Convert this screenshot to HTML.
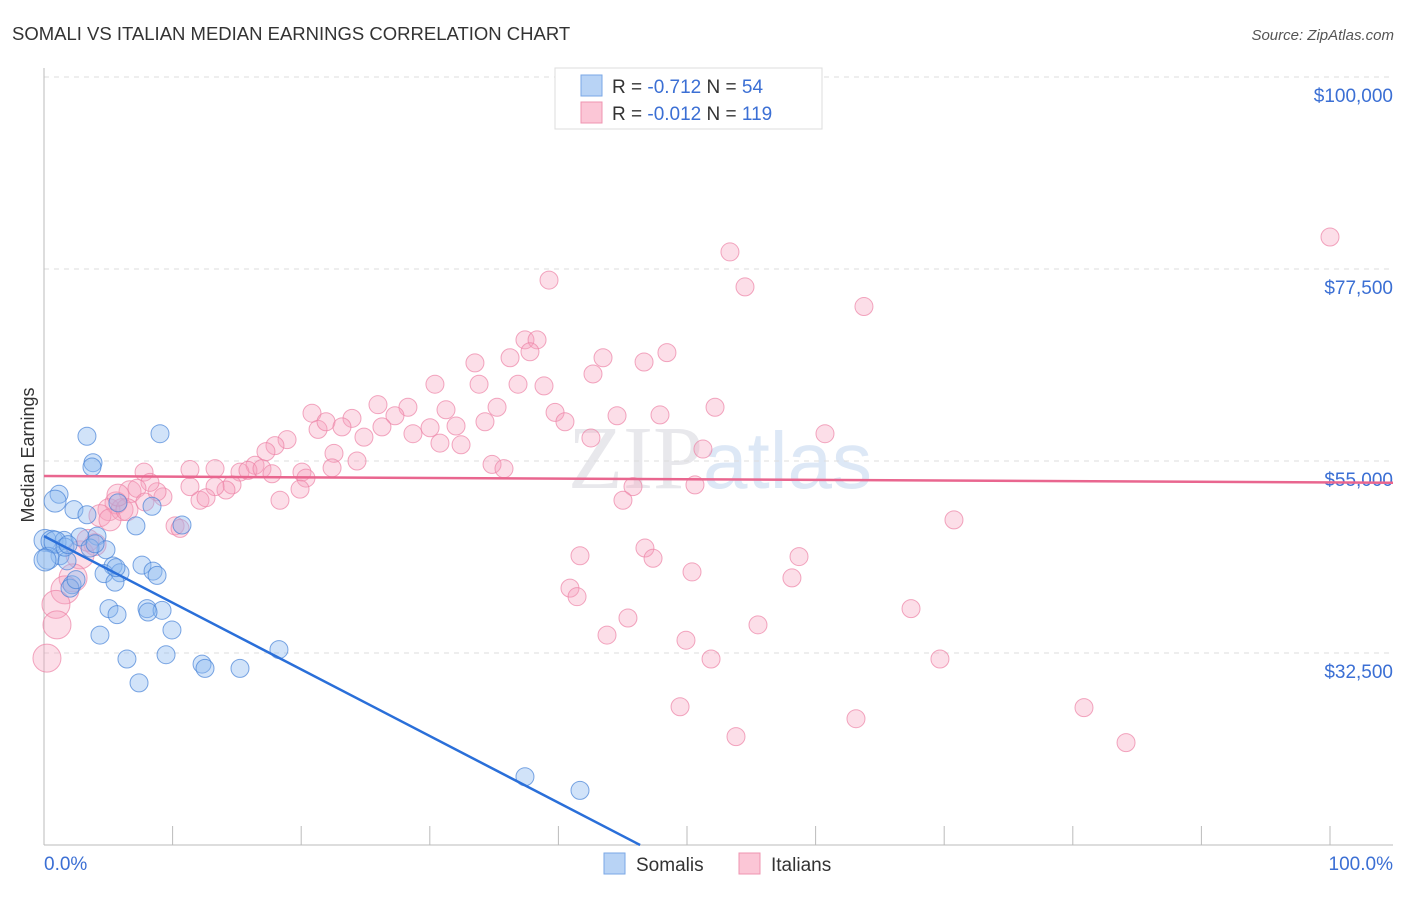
<!DOCTYPE html>
<html><head><meta charset="utf-8"><style>
body{margin:0;background:#fff;font-family:"Liberation Sans",sans-serif;}
</style></head><body>
<svg width="1406" height="892" xmlns="http://www.w3.org/2000/svg" id="chart" font-family="Liberation Sans, sans-serif">
<text x="12" y="40" font-size="18.5" fill="#333">SOMALI VS ITALIAN MEDIAN EARNINGS CORRELATION CHART</text>
<text x="1394" y="40" font-size="15" fill="#555" font-style="italic" text-anchor="end">Source: ZipAtlas.com</text>
<text x="720" y="488" font-size="90" fill="#e8e8ec" text-anchor="middle" font-family="Liberation Serif, serif">ZIP<tspan fill="#dde8f6" font-family="Liberation Sans, sans-serif" font-size="80">atlas</tspan></text>
<g id="grid"></g>
<g id="axes"></g>
<g id="pts"></g>
<g id="trends"></g>
<text transform="translate(34,455) rotate(-90)" font-size="18" fill="#333" text-anchor="middle">Median Earnings</text>
<text x="44" y="870" font-size="19" fill="#3b6fd4">0.0%</text>
<text x="1393" y="870" font-size="19" fill="#3b6fd4" text-anchor="end">100.0%</text>
<g>
<rect x="555" y="68" width="267" height="61" fill="#fff" stroke="#ddd"/>
<rect x="581" y="75" width="21" height="21" fill="#b8d3f5" stroke="#7aa7e6"/>
<rect x="581" y="102" width="21" height="21" fill="#fbc6d6" stroke="#ef94b0"/>
<text x="612" y="93" font-size="19" fill="#333">R = <tspan fill="#3b6fd4">-0.712</tspan>   N = <tspan fill="#3b6fd4"> 54</tspan></text>
<text x="612" y="120" font-size="19" fill="#333">R = <tspan fill="#3b6fd4">-0.012</tspan>   N = <tspan fill="#3b6fd4">119</tspan></text>
</g>
<g>
<rect x="604" y="853" width="21" height="21" fill="#b8d3f5" stroke="#7aa7e6"/>
<text x="636" y="871" font-size="19" fill="#333">Somalis</text>
<rect x="739" y="853" width="21" height="21" fill="#fbc6d6" stroke="#ef94b0"/>
<text x="771" y="871" font-size="19" fill="#333">Italians</text>
</g>
</svg>
<script>
const yTicks=[32500,55000,77500,100000];
const yTickLabels=["$32,500","$55,000","$77,500","$100,000"];
const somaliX=[3.34,9.02,3.81,3.73,1.17,0.86,2.33,3.34,5.75,8.40,7.15,10.73,0.08,0.62,1.56,2.80,4.12,4.82,3.58,1.24,0.31,1.79,5.37,7.62,8.48,8.79,4.67,5.91,2.18,2.02,5.52,5.05,5.68,8.01,9.18,8.09,4.35,9.95,6.45,9.49,12.29,12.52,15.24,7.39,18.27,37.40,41.68,2.49,0.86,1.63,3.97,0.08,1.87,5.60];
const somaliY=[57.9,58.2,54.8,54.3,51.1,50.3,49.3,48.7,50.1,49.7,47.4,47.5,45.7,45.6,45.7,46.1,46.2,44.6,44.8,43.9,43.6,43.3,42.7,42.8,42.1,41.6,41.8,41.9,40.5,40.1,40.8,37.7,37.0,37.7,37.5,37.3,34.6,35.2,31.8,32.3,31.2,30.7,30.7,29.0,32.9,18.0,16.4,41.1,45.5,44.9,45.3,43.4,45.2,42.5];
const italianX=[100.0,53.34,39.27,54.51,63.76,37.40,38.34,37.79,48.44,43.47,33.51,36.24,46.66,42.69,30.40,36.86,33.83,38.88,35.23,39.74,47.90,52.18,44.56,25.97,20.84,28.30,27.29,31.26,23.95,21.31,21.93,34.29,40.51,23.17,26.28,32.04,24.88,28.69,30.02,22.55,24.34,30.79,32.43,42.53,60.73,18.90,17.96,17.26,16.41,15.24,13.30,14.62,15.86,14.15,13.30,20.06,20.37,22.40,34.84,35.77,51.24,45.80,50.62,19.91,18.35,12.13,11.35,12.60,9.25,8.79,7.78,8.24,6.69,7.23,5.60,5.05,4.35,6.07,10.19,10.58,70.76,45.02,3.97,2.80,3.42,2.26,1.63,0.93,1.01,0.23,41.68,46.73,47.36,58.71,50.39,58.16,40.90,41.45,45.41,43.78,49.92,55.52,67.42,51.87,69.67,49.46,63.14,53.81,80.87,84.14,7.85,16.95,17.73,11.35,5.13,6.45,5.75];
const italianY=[81.25,79.5,76.2,75.4,73.1,69.2,69.2,67.8,67.7,67.1,66.5,67.1,66.6,65.2,64.0,64.0,64.0,63.8,61.3,60.7,60.4,61.3,60.3,61.6,60.6,61.3,60.3,61.0,60.0,58.7,59.6,59.6,59.6,59.0,59.0,59.1,57.8,58.2,58.9,55.9,55.0,57.1,56.9,57.7,58.2,57.5,56.8,56.1,54.5,53.7,54.1,52.2,53.9,51.6,52.0,53.7,53.0,54.2,54.6,54.1,56.4,52.0,52.2,51.7,50.4,50.4,52.0,50.7,50.8,51.4,53.7,52.5,51.4,51.8,50.1,49.3,48.6,49.3,47.4,47.1,48.1,50.4,45.2,44.0,45.7,41.3,39.9,38.2,35.8,31.9,43.9,44.8,43.6,43.8,42.0,41.3,40.1,39.1,36.6,34.6,34.0,35.8,37.7,31.8,31.8,26.2,24.8,22.7,26.1,22.0,50.2,54.1,53.5,54.0,48.1,49.3,51.0];
const somaliTrend=[46.2,-0.781];
const italianTrend=[53.24,-0.0075];

const NS="http://www.w3.org/2000/svg";
function xs(p){return 44+p*12.86;}
function ys(k){return 77+(100-k)*768/90;}
function mk(tag,attrs,parent){const e=document.createElementNS(NS,tag);for(const k in attrs)e.setAttribute(k,attrs[k]);parent.appendChild(e);return e;}
const grid=document.getElementById('grid'),axes=document.getElementById('axes'),pts=document.getElementById('pts'),tr=document.getElementById('trends');
yTicks.forEach((v,i)=>{
 const y=ys(v/1000);
 const l=mk('line',{x1:44,x2:1393,y1:y,y2:y,stroke:'#ddd','stroke-dasharray':'5,5'},grid);
 
 
 const t=mk('text',{x:1393,y:y+25,'font-size':19,fill:'#3b6fd4','text-anchor':'end'},grid);
 t.textContent=yTickLabels[i];
 
 
});
const ax=mk('line',{x1:44,x2:44,y1:68,y2:845,stroke:'#bbb'},axes);


const bx=mk('line',{x1:44,x2:1393,y1:845,y2:845,stroke:'#bbb'},axes);


for(let i=0;i<=10;i++){
 const x=xs(i*10);
 const t=mk('line',{x1:x,x2:x,y1:826,y2:845,stroke:'#bbb'},axes);
 
 
}
italianX.forEach((x,i)=>{
 const r=x<3?14:(x<7?11:9);
 const c=mk('circle',{cx:xs(x),cy:ys(italianY[i]),r:r,fill:'rgba(246,160,188,0.35)',stroke:'rgba(236,130,165,0.7)','stroke-width':1},pts);
 
 
});
somaliX.forEach((x,i)=>{
 const c=mk('circle',{cx:xs(x),cy:ys(somaliY[i]),r:x<1?11:9,fill:'rgba(140,185,240,0.4)',stroke:'rgba(70,130,215,0.7)','stroke-width':1},pts);
 
 
});
const sx2=(10-somaliTrend[0])/somaliTrend[1];
const s=mk('line',{x1:xs(0),y1:ys(somaliTrend[0]),x2:xs(sx2),y2:ys(10),stroke:'#2a6fd9','stroke-width':2.5},tr);


const xe=(1393-44)/12.86;
const p=mk('line',{x1:xs(0),y1:ys(italianTrend[0]),x2:1393,y2:ys(italianTrend[0]+italianTrend[1]*xe),stroke:'#e9668f','stroke-width':2.5},tr);


</script>
</body></html>
